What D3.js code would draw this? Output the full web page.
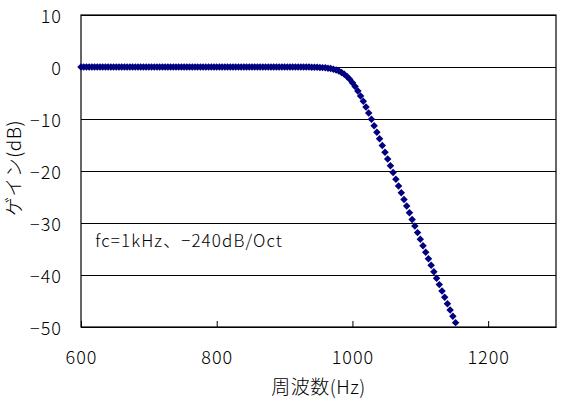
<!DOCTYPE html>
<html lang="ja">
<head>
<meta charset="UTF-8" />
<title>ゲイン</title>
<script src="https://d3js.org/d3.v7.min.js"></script>
<style>
  body { margin: 0; background: #fff; }
  text { font-family: "Noto Sans CJK JP", sans-serif; font-weight: 300; fill: #000; }
</style>
</head>
<body>
<script>
// frequency points (Hz)
var freqs = [
  600, 604, 608, 612, 616, 620, 624, 628, 632, 636, 640, 644, 648, 652, 656, 660, 664, 668, 672, 676, 680, 684, 688, 692, 696,
  700, 704, 708, 712, 716, 720, 724, 728, 732, 736, 740, 744, 748, 752, 756, 760, 764, 768, 772, 776, 780, 784, 788, 792, 796,
  800, 804, 808, 812, 816, 820, 824, 828, 832, 836, 840, 844, 848, 852, 856, 860, 864, 868, 872, 876, 880, 884, 888, 892, 896,
  900, 904, 908, 912, 916, 920, 924, 928, 932, 936, 940, 944, 948, 952, 956, 960, 964, 968, 972, 976, 980, 984, 988, 992, 996,
  1000, 1004, 1008, 1012, 1016, 1020, 1024, 1028, 1032, 1036, 1040, 1044, 1048, 1052, 1056, 1060, 1064, 1068, 1072, 1076, 1080, 1084, 1088, 1092, 1096,
  1100, 1104, 1108, 1112, 1116, 1120, 1124, 1128, 1132, 1136, 1140, 1144, 1148, 1152
];
// gain (dB)
var gains = [
  0, 0, 0, 0, 0, 0, 0, 0, 0, 0, 0, 0, 0, 0, 0, 0, 0, 0, 0, 0, 0, 0, 0, 0, 0,
  0, 0, 0, 0, 0, 0, 0, 0, 0, 0, 0, 0, 0, 0, 0, 0, 0, 0, 0, 0, 0, 0, 0, 0, 0,
  0, 0, 0, 0, 0, 0, 0, 0, 0, 0, 0, 0, 0, 0, 0, 0, 0, 0, 0, 0, 0, 0, 0, 0, 0,
  0, 0, 0, 0, 0, -0.01, -0.01, -0.01, -0.02, -0.02, -0.03, -0.04, -0.06, -0.08, -0.12, -0.16, -0.23, -0.31, -0.43, -0.58, -0.79, -1.06, -1.40, -1.84, -2.37,
  -3.01, -3.76, -4.61, -5.56, -6.59, -7.69, -8.85, -10.05, -11.28, -12.54, -13.81, -15.10, -16.39, -17.69, -18.99, -20.29, -21.58, -22.88, -24.17, -25.46, -26.75, -28.03, -29.31, -30.58, -31.85,
  -33.11, -34.38, -35.63, -36.88, -38.13, -39.37, -40.61, -41.85, -43.08, -44.30, -45.52, -46.74, -47.95, -49.16
];
var xTicks = [600, 800, 1000, 1200];
var yTicks = [10, 0, -10, -20, -30, -40, -50];
var xTitle = "周波数(Hz)";
var yTitle = "ゲイン(dB)";
var note = "fc=1kHz、−240dB/Oct";

var W = 562, H = 399;
var margin = { top: 15, right: 6, bottom: 72, left: 81 };
var width = W - margin.left - margin.right,
    height = H - margin.top - margin.bottom;

var x = d3.scaleLinear().domain([600, 1300]).range([0, width]);
var y = d3.scaleLinear().domain([-50, 10]).range([height, 0]);

var svg = d3.select("body").append("svg")
  .attr("width", W).attr("height", H);
var g = svg.append("g")
  .attr("transform", "translate(" + margin.left + "," + margin.top + ")");

// horizontal gridlines
g.append("g")
  .call(d3.axisLeft(y).tickValues(yTicks).tickSize(-width).tickFormat(""))
  .call(s => s.select(".domain").remove())
  .selectAll("line").attr("stroke", "#000");

// plot border
g.append("rect")
  .attr("width", width).attr("height", height)
  .attr("fill", "none").attr("stroke", "#000").attr("stroke-width", 1.2);

// y tick labels
g.append("g")
  .call(d3.axisLeft(y).tickValues(yTicks).tickSize(0).tickPadding(19).tickFormat(d3.format("d")))
  .call(s => s.select(".domain").remove())
  .selectAll("text")
  .attr("font-size", 18)
  .attr("letter-spacing", 1)
  .attr("dy", "0.42em")
  .attr("font-family", "Noto Sans CJK JP");

// x axis, ticks pointing inward
g.append("g")
  .attr("transform", "translate(0," + height + ")")
  .call(d3.axisBottom(x).tickValues(xTicks).tickSizeInner(-6).tickSizeOuter(0).tickPadding(24).tickFormat(d3.format("d")))
  .call(s => s.select(".domain").attr("stroke", "#000").attr("stroke-width", 1.2))
  .call(s => s.selectAll("line").attr("stroke", "#000"))
  .selectAll("text")
  .attr("font-size", 18)
  .attr("letter-spacing", 1)
  .attr("font-family", "Noto Sans CJK JP");

// points
var pts = freqs.map((f, i) => ({ f: f, g: gains[i] }));
g.selectAll("path.pt")
  .data(pts)
  .enter()
  .append("path")
  .attr("class", "pt")
  .attr("d", d3.symbol(d3.symbolSquare, 28))
  .attr("transform", d => "translate(" + x(d.f) + "," + y(d.g) + ") rotate(45)")
  .attr("fill", "#000080");

// annotation
g.append("text")
  .attr("x", x(621))
  .attr("y", y(-34.6))
  .attr("font-size", 17)
  .attr("letter-spacing", 1.1)
  .text(note);

// axis titles
svg.append("text")
  .attr("x", margin.left + width / 2)
  .attr("y", 394)
  .attr("text-anchor", "middle")
  .attr("font-size", 19)
  .attr("letter-spacing", 0.5)
  .text(xTitle);

svg.append("text")
  .attr("transform", "translate(21," + 168 + ") rotate(-90)")
  .attr("text-anchor", "middle")
  .attr("font-size", 19)
  .attr("letter-spacing", 0.5)
  .text(yTitle);
</script>
</body>
</html>
